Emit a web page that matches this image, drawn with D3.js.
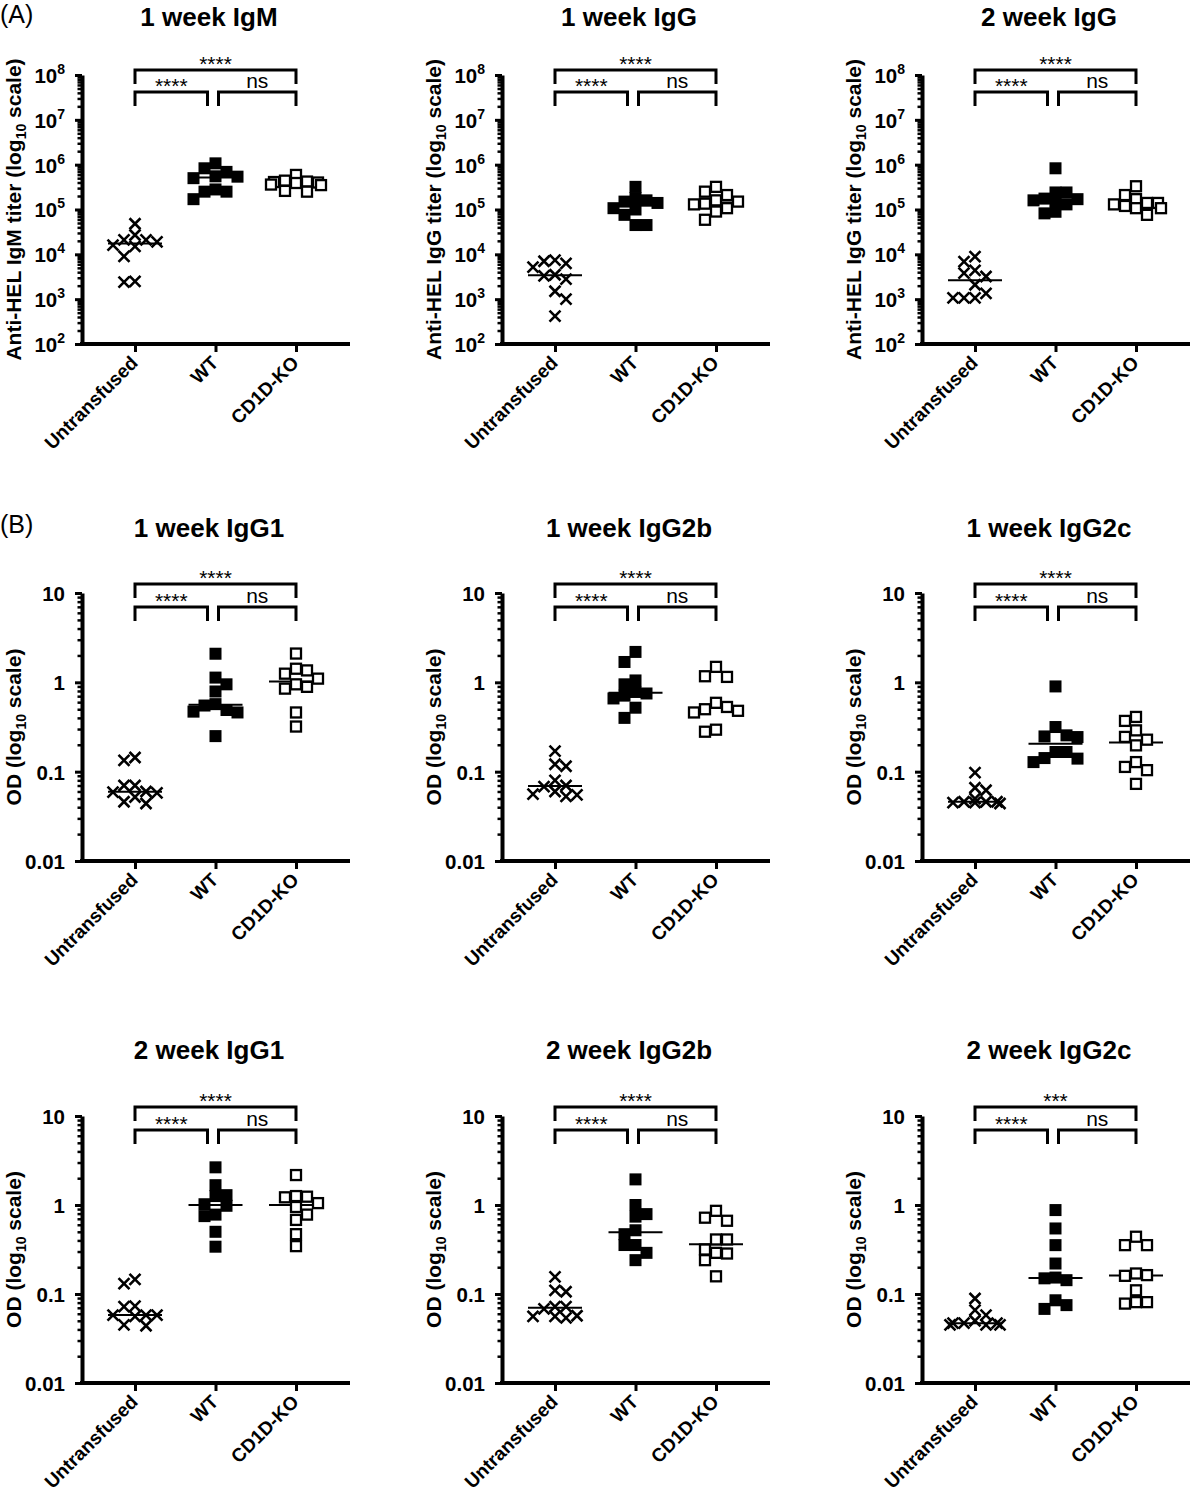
<!DOCTYPE html>
<html><head><meta charset="utf-8">
<script src="https://cdn.jsdelivr.net/npm/d3@7"></script>
<style>
body{margin:0;background:#fff;}
text{font-family:"Liberation Sans",Arial,Helvetica,sans-serif;fill:#000;}
</style></head><body>
<svg id="chart" width="1195" height="1500"></svg>
<script>
// ---------- categories, titles, labels ----------
const groups = ["Untransfused", "WT", "CD1D-KO"];
const panelTitles = ["1 week IgM", "1 week IgG", "2 week IgG",
                     "1 week IgG1", "1 week IgG2b", "1 week IgG2c",
                     "2 week IgG1", "2 week IgG2b", "2 week IgG2c"];
const titerIsotypes = ["IgM", "IgG", "IgG"];
const panelLetters = ["(A)", "(B)"];
const titerTicks = [1e2, 1e3, 1e4, 1e5, 1e6, 1e7, 1e8];
const titerExponents = ["2", "3", "4", "5", "6", "7", "8"];
const odTicks = [0.01, 0.1, 1, 10];
const odTickLabels = ["0.01", "0.1", "1", "10"];
const sigOuter = ["****", "****", "****", "****", "****", "****", "****", "****", "***"];
const sigLeft  = ["****", "****", "****", "****", "****", "****", "****", "****", "****"];
const sigRight = ["ns", "ns", "ns", "ns", "ns", "ns", "ns", "ns", "ns"];

// ---------- data ----------
const igm1wUntransfused = [48000, 27000, 15000, 21000, 16000, 19000, 21000, 9000, 2400, 2500];
const igm1wWT = [830000, 1070000, 690000, 540000, 500000, 280000, 250000, 250000, 170000, 550000];
const igm1wKO = [420000, 440000, 400000, 410000, 390000, 590000, 250000, 260000, 350000, 360000];

const igg1wUntransfused = [6300, 7000, 7400, 5200, 3300, 3500, 2800, 1500, 1000, 420];
const igg1wWT = [320000, 160000, 180000, 107000, 150000, 140000, 76000, 45000, 45000, 100000];
const igg1wKO = [320000, 250000, 210000, 160000, 130000, 135000, 107000, 90000, 150000, 59000];

const igg2wUntransfused = [8900, 6900, 3800, 3200, 4400, 2100, 1070, 1350, 1070, 1070];
const igg2wWT = [830000, 240000, 240000, 160000, 170000, 160000, 130000, 82000, 89000, 175000];
const igg2wKO = [330000, 210000, 170000, 140000, 107000, 107000, 130000, 140000, 120000, 76000];

const igg1od1wUntransfused = [0.134, 0.144, 0.070, 0.070, 0.059, 0.058, 0.060, 0.044, 0.046, 0.052];
const igg1od1wWT = [2.09, 1.13, 0.95, 0.79, 0.55, 0.57, 0.47, 0.46, 0.49, 0.25];
const igg1od1wKO = [2.1, 1.25, 1.42, 1.36, 1.1, 0.89, 0.85, 0.95, 0.46, 0.32];

const igg2bod1wUntransfused = [0.17, 0.121, 0.115, 0.080, 0.070, 0.068, 0.056, 0.055, 0.053, 0.060];
const igg2bod1wWT = [2.19, 1.69, 0.95, 1.05, 0.78, 0.71, 0.75, 0.66, 0.52, 0.40];
const igg2bod1wKO = [1.49, 1.15, 1.17, 0.59, 0.50, 0.46, 0.48, 0.53, 0.295, 0.28];

const igg2cod1wUntransfused = [0.0975, 0.066, 0.062, 0.050, 0.045, 0.046, 0.046, 0.045, 0.044, 0.046];
const igg2cod1wWT = [0.90, 0.316, 0.255, 0.244, 0.248, 0.142, 0.166, 0.14, 0.166, 0.128];
const igg2cod1wKO = [0.41, 0.37, 0.29, 0.245, 0.228, 0.197, 0.128, 0.113, 0.104, 0.073];

const igg1od2wUntransfused = [0.146, 0.131, 0.073, 0.072, 0.058, 0.058, 0.058, 0.056, 0.045, 0.044];
const igg1od2wWT = [2.65, 1.67, 1.29, 1.26, 1.02, 0.98, 0.75, 0.78, 0.50, 0.34];
const igg1od2wKO = [2.17, 1.24, 1.22, 1.26, 1.05, 0.95, 0.78, 0.68, 0.47, 0.345];

const igg2bod2wUntransfused = [0.156, 0.110, 0.106, 0.072, 0.072, 0.056, 0.056, 0.057, 0.054, 0.068];
const igg2bod2wWT = [1.94, 1.0, 0.74, 0.79, 0.52, 0.47, 0.355, 0.355, 0.29, 0.24];
const igg2bod2wKO = [0.86, 0.72, 0.665, 0.316, 0.41, 0.41, 0.285, 0.24, 0.29, 0.158];

const igg2cod2wUntransfused = [0.089, 0.066, 0.058, 0.045, 0.047, 0.047, 0.047, 0.045, 0.045, 0.050];
const igg2cod2wWT = [0.877, 0.545, 0.354, 0.22, 0.153, 0.15, 0.143, 0.085, 0.068, 0.075];
const igg2cod2wKO = [0.44, 0.354, 0.354, 0.163, 0.17, 0.16, 0.11, 0.078, 0.081, 0.081];

const panelData = [
  [igm1wUntransfused, igm1wWT, igm1wKO],
  [igg1wUntransfused, igg1wWT, igg1wKO],
  [igg2wUntransfused, igg2wWT, igg2wKO],
  [igg1od1wUntransfused, igg1od1wWT, igg1od1wKO],
  [igg2bod1wUntransfused, igg2bod1wWT, igg2bod1wKO],
  [igg2cod1wUntransfused, igg2cod1wWT, igg2cod1wKO],
  [igg1od2wUntransfused, igg1od2wWT, igg1od2wKO],
  [igg2bod2wUntransfused, igg2bod2wWT, igg2bod2wKO],
  [igg2cod2wUntransfused, igg2cod2wWT, igg2cod2wKO]
];

// ---------- layout ----------
const svg = d3.select("#chart");
const colX = [0, 420, 840];
const rows = [
  {top: 75,   bottom: 344,  titleY: 26,   brTop: 70,   brLow: 92,   letterY: 23},
  {top: 593,  bottom: 861,  titleY: 537,  brTop: 584,  brLow: 607,  letterY: 533},
  {top: 1116, bottom: 1383, titleY: 1059, brTop: 1107, brLow: 1130}
];
const axisXOff = 82, axisEndOff = 350, g0 = 135, g2 = 296;
const drop = 14, sx = 11, sy = 10.5, maxHalf = 25;

svg.append("text").attr("x", 0).attr("y", rows[0].letterY).attr("font-size", 25).text(panelLetters[0]);
svg.append("text").attr("x", 0).attr("y", rows[1].letterY).attr("font-size", 25).text(panelLetters[1]);

// greedy column scatter: closest free x to the group centre, capped width
function swarm(values, y, gx) {
  const pts = values.map(v => ({v, py: y(v)})).sort((a, b) => a.py - b.py);
  const placed = [];
  let side = 1;
  pts.forEach(p => {
    const near = placed.filter(q => Math.abs(q.py - p.py) < sy);
    const cands = [0];
    near.forEach(q => { cands.push(q.px - gx - sx, q.px - gx + sx); });
    const free = c => near.every(q => Math.abs(q.px - (gx + c)) >= sx - 1e-6);
    const ok = cands.filter(c => Math.abs(c) <= maxHalf + 1e-6 && free(c))
      .sort((a, b) => Math.abs(a) - Math.abs(b) || (side * b - side * a));
    let c;
    if (ok.length) c = ok[0];
    else {
      let best = 0, bestScore = Infinity;
      for (let t = -maxHalf; t <= maxHalf; t += 1) {
        const sc = near.reduce((s, q) => s + Math.max(0, sx - Math.abs(q.px - (gx + t))) * (sy - Math.abs(q.py - p.py)), 0);
        if (sc < bestScore - 1e-9) { bestScore = sc; best = t; }
      }
      c = best;
    }
    side = -side;
    p.px = gx + c;
    placed.push(p);
  });
  return pts;
}

panelData.forEach((data, pi) => {
  const ri = Math.floor(pi / 3), ci = pi % 3;
  const R = rows[ri];
  const g = svg.append("g").attr("transform", `translate(${colX[ci]},0)`);
  const isTiter = ri === 0;

  const y = d3.scaleLog()
    .domain(isTiter ? [titerTicks[0], titerTicks[titerTicks.length - 1]] : [odTicks[0], odTicks[odTicks.length - 1]])
    .range([R.bottom, R.top]);
  const x = d3.scalePoint().domain(groups).range([g0, g2]);
  const majors = isTiter ? titerTicks : odTicks;
  const minors = y.ticks().filter(t => !majors.some(m => Math.abs(m - t) / m < 1e-6));

  // title
  g.append("text").attr("x", 209).attr("y", R.titleY).attr("text-anchor", "middle")
    .attr("font-size", 26).attr("font-weight", "bold").text(panelTitles[pi]);

  // minor ticks
  g.append("g").attr("transform", `translate(${axisXOff},0)`)
    .call(d3.axisLeft(y).tickValues(minors).tickSize(4.5).tickSizeOuter(0).tickFormat(""))
    .call(s => s.select(".domain").remove())
    .call(s => s.selectAll("line").attr("stroke", "#000").attr("stroke-width", 2.5));

  // major ticks & labels
  const ya = g.append("g").attr("transform", `translate(${axisXOff},0)`)
    .call(d3.axisLeft(y).tickValues(majors).tickSize(7).tickSizeOuter(0).tickPadding(10).tickFormat(""));
  ya.select(".domain").attr("stroke", "#000").attr("stroke-width", 4);
  ya.selectAll("line").attr("stroke", "#000").attr("stroke-width", 3);
  ya.selectAll(".tick text").each(function(d, i) {
    const t = d3.select(this).attr("font-size", 20.5).attr("font-weight", "bold")
      .attr("font-family", "Liberation Sans, Arial, sans-serif").attr("fill", "#000").attr("dy", "0.36em");
    if (isTiter) {
      t.append("tspan").text("10");
      t.append("tspan").attr("font-size", 14).attr("dy", -9).text(titerExponents[i]);
    } else {
      t.text(odTickLabels[i]);
    }
  });

  // x axis
  g.append("line").attr("x1", axisXOff - 2).attr("x2", axisEndOff).attr("y1", R.bottom).attr("y2", R.bottom)
    .attr("stroke", "#000").attr("stroke-width", 4);
  const xa = g.append("g").attr("transform", `translate(0,${R.bottom})`)
    .call(d3.axisBottom(x).tickSize(8).tickSizeOuter(0).tickFormat(""));
  xa.select(".domain").remove();
  xa.selectAll("line").attr("stroke", "#000").attr("stroke-width", 3);
  groups.forEach(gr => {
    g.append("text").attr("transform", `translate(${x(gr) + 4},${R.bottom + 20}) rotate(-45)`)
      .attr("text-anchor", "end").attr("font-size", 19).attr("font-weight", "bold").text(gr);
  });

  // y axis title
  const yc = (R.top + R.bottom) / 2;
  const yt = g.append("text").attr("transform", `translate(21,${yc}) rotate(-90)`)
    .attr("text-anchor", "middle").attr("font-size", 21).attr("font-weight", "bold");
  if (isTiter) {
    yt.append("tspan").text(`Anti-HEL ${titerIsotypes[ci]} titer (log`);
  } else {
    yt.append("tspan").text("OD (log");
  }
  yt.append("tspan").attr("font-size", 14).attr("dy", 5).text("10");
  yt.append("tspan").attr("dy", -5).text(" scale)");

  // brackets
  const x0 = x(groups[0]), x1 = x(groups[1]), x2 = x(groups[2]);
  const br = (a, b, yy) => g.append("path")
    .attr("d", `M${a},${yy + drop}V${yy}H${b}V${yy + drop}`)
    .attr("fill", "none").attr("stroke", "#000").attr("stroke-width", 3);
  br(x0, x2, R.brTop);
  br(x0, x1 - 8, R.brLow);
  br(x1 + 3, x2, R.brLow);
  g.append("text").attr("x", (x0 + x2) / 2).attr("y", R.brTop + 1).attr("text-anchor", "middle")
    .attr("font-size", 21).text(sigOuter[pi]);
  g.append("text").attr("x", (x0 + x1 - 8) / 2).attr("y", R.brLow + 1).attr("text-anchor", "middle")
    .attr("font-size", 21).text(sigLeft[pi]);
  g.append("text").attr("x", (x1 + 3 + x2) / 2).attr("y", R.brLow - 4).attr("text-anchor", "middle")
    .attr("font-size", 21).text(sigRight[pi]);

  // points
  data.forEach((vals, gi) => {
    const gx = x(groups[gi]);
    const pts = swarm(vals, y, gx);
    const m = d3.median(vals);
    g.append("line").attr("x1", gx - 27).attr("x2", gx + 27).attr("y1", y(m)).attr("y2", y(m))
      .attr("stroke", "#000").attr("stroke-width", 2);
    const sel = g.append("g").selectAll("g").data(pts).join("g")
      .attr("transform", p => `translate(${p.px},${p.py})`);
    if (gi === 0) {
      sel.append("path").attr("d", "M-5.5,-5.5L5.5,5.5M-5.5,5.5L5.5,-5.5").attr("stroke", "#000")
        .attr("stroke-width", 2.6).attr("fill", "none");
    } else if (gi === 1) {
      sel.append("rect").attr("x", -6).attr("y", -6).attr("width", 12).attr("height", 12).attr("fill", "#000");
    } else {
      sel.append("rect").attr("x", -5).attr("y", -5).attr("width", 10).attr("height", 10)
        .attr("fill", "#fff").attr("stroke", "#000").attr("stroke-width", 2.3);
    }
  });
});
</script>
</body></html>
